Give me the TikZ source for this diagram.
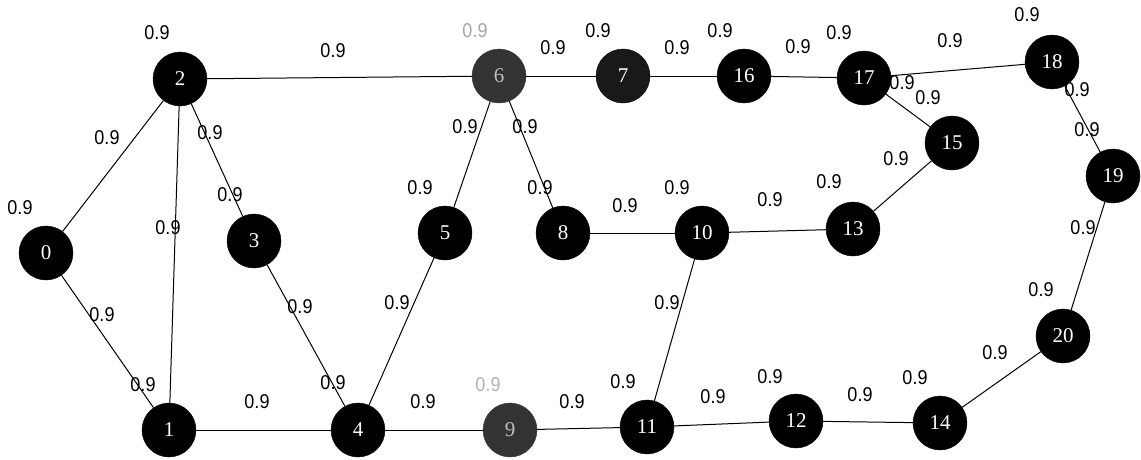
\documentclass[tikz,border=0pt]{standalone}
\usepackage{fontspec}
\newfontfamily\wfont[FakeStretch=0.9]{Liberation Sans}
\newfontfamily\nfont{Liberation Serif}
\usetikzlibrary{positioning}

\begin{document}
\begin{tikzpicture}[x=1pt, y=-1pt,
        vertex/.style={circle, draw=black, fill=black, minimum size=54pt, inner sep=0pt,
                       text=white, font=\nfont\fontsize{21}{21}\selectfont},
        worn/.style={fill=black!80, draw=black!80, text=black!25},
        edge/.style={black, line width=1pt},
        weight/.style={inner sep=0pt, font=\wfont\fontsize{20}{20}\selectfont}
    ]
        \useasboundingbox (0,0) rectangle (1141,459);

        % sommets
        \node[vertex] (n0) at (46,253) {0};
        \node[vertex] (n1) at (169,430) {1};
        \node[vertex] (n2) at (180,79) {2};
        \node[vertex] (n3) at (254,241) {3};
        \node[vertex] (n4) at (358,430) {4};
        \node[vertex] (n5) at (445,233) {5};
        \node[vertex, worn] (n6) at (499,76) {6};
        \node[vertex, fill=black!90] (n7) at (623,76) {7};
        \node[vertex] (n8) at (563,233) {8};
        \node[vertex, worn] (n9) at (510,430) {9};
        \node[vertex] (n10) at (702,233) {10};
        \node[vertex] (n11) at (647,427) {11};
        \node[vertex] (n12) at (796,421) {12};
        \node[vertex] (n13) at (853,229) {13};
        \node[vertex] (n14) at (940,423) {14};
        \node[vertex] (n15) at (952,143) {15};
        \node[vertex] (n16) at (744,76) {16};
        \node[vertex] (n17) at (864,78) {17};
        \node[vertex] (n18) at (1052,62) {18};
        \node[vertex] (n19) at (1113,176) {19};
        \node[vertex] (n20) at (1063,336) {20};

        % aretes
        \foreach \a/\b in {2/0, 2/1, 2/3, 2/6, 0/1, 1/4, 3/4, 4/5, 5/6, 6/8, 6/7, 7/16,
                           16/17, 17/18, 17/15, 15/13, 13/10, 10/8, 10/11, 4/9, 9/11,
                           11/12, 12/14, 14/20, 20/19, 19/18}
            \draw[edge] (n\a) -- (n\b);

        % poids
        \foreach \x/\y [count=\i] in {157/33, 333/51, 107/138, 210/133, 230/195, 20/208,
                168/228, 553/48, 598/31, 677/48, 720/31, 465/127, 525/127, 420/188,
                540/188, 625/206, 677/188, 798/47, 839/33, 950/41, 1027/15, 902/83,
                928/98, 1077/90, 1087/130, 896/159, 829/182, 770/200, 102/315,
                143/385, 257/402, 300/307, 333/383, 397/303, 667/303, 423/402,
                572/402, 623/382, 713/397, 770/377, 860/395, 915/378, 995/353,
                1041/290, 1083/228}
            \node[weight] (w\i) at (\x,\y) {0.9};
        \node[weight, black!35] (w6top) at (475,31) {0.9};
        \node[weight, black!30] (w9top) at (488,385) {0.9};
    \end{tikzpicture}
\end{document}
